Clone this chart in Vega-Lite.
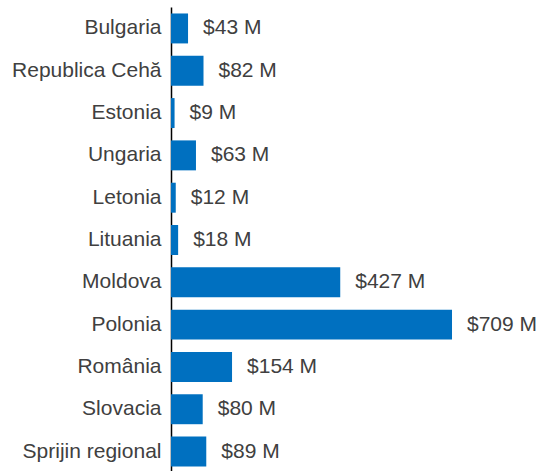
{
  "$schema": "https://vega.github.io/schema/vega-lite/v6.json",
  "width": 369,
  "height": 466,
  "autosize": {"type": "none"},
  "padding": {"left": 171, "top": 7, "right": 0, "bottom": -2},
  "config": {"view": {"stroke": null}, "font": "Liberation Sans"},
  "data": {
    "values": [
      {"country": "Bulgaria", "value": 43, "label": "$43 M"},
      {"country": "Republica Cehă", "value": 82, "label": "$82 M"},
      {"country": "Estonia", "value": 9, "label": "$9 M"},
      {"country": "Ungaria", "value": 63, "label": "$63 M"},
      {"country": "Letonia", "value": 12, "label": "$12 M"},
      {"country": "Lituania", "value": 18, "label": "$18 M"},
      {"country": "Moldova", "value": 427, "label": "$427 M"},
      {"country": "Polonia", "value": 709, "label": "$709 M"},
      {"country": "România", "value": 154, "label": "$154 M"},
      {"country": "Slovacia", "value": 80, "label": "$80 M"},
      {"country": "Sprijin regional", "value": 89, "label": "$89 M"}
    ]
  },
  "encoding": {
    "y": {
      "field": "country",
      "type": "nominal",
      "sort": null,
      "scale": {"paddingInner": 0.292, "paddingOuter": 0.153},
      "axis": {
        "title": null,
        "ticks": false,
        "domain": true,
        "domainColor": "#000000",
        "domainWidth": 1.5,
        "labelFontSize": 21,
        "labelColor": "#404040",
        "labelPadding": 10,
        "labelFont": "Liberation Sans"
      }
    },
    "x": {
      "field": "value",
      "type": "quantitative",
      "scale": {"domain": [0, 931], "nice": false},
      "axis": null
    }
  },
  "layer": [
    {"mark": {"type": "bar", "color": "#0070C0"}},
    {
      "mark": {"type": "text", "align": "left", "baseline": "middle", "dx": 15, "fontSize": 21, "color": "#404040", "font": "Liberation Sans"},
      "encoding": {"text": {"field": "label"}}
    }
  ]
}
